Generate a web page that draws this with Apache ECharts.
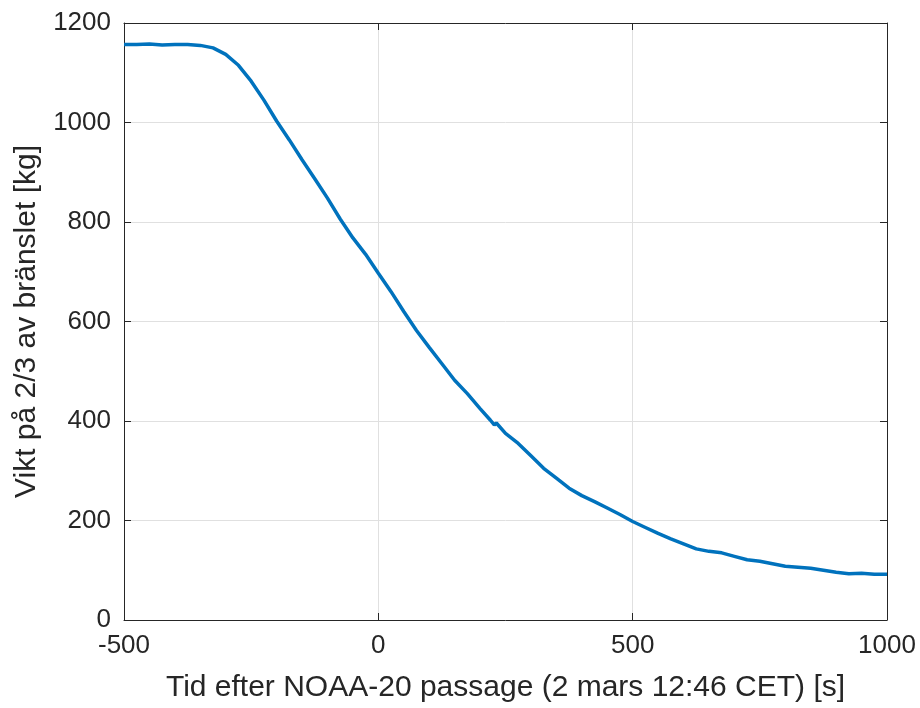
<!DOCTYPE html>
<html><head><meta charset="utf-8">
<script src="https://cdn.jsdelivr.net/npm/echarts@6/dist/echarts.min.js"></script>
<style>html,body{margin:0;padding:0;background:#fff}#c{width:920px;height:708px}</style>
</head><body><div id="c"></div>
<script>
const timeS = [-500,-475,-450,-425,-400,-375,-350,-325,-300,-275,-250,-225,-200,-175,-150,-125,-100,-75,-50,-25,0,25,50,75,100,125,150,175,200,220,228,232,250,275,300,325,350,375,400,425,450,475,500,525,550,575,600,625,650,675,700,725,750,775,800,825,850,875,900,925,950,975,1000];
const weightKg = [1157,1157,1158,1156,1157,1157,1155,1150,1137,1115,1083,1045,1003,965,925,887,848,806,768,735,697,660,620,582,548,515,482,455,425,402,392,396,375,355,330,305,285,265,250,238,225,212,198,186,174,163,153,143,138,135,128,121,118,113,108,106,104,100,96,93,94,92,92];
const xTicks = [-500,0,500,1000];
const yTicks = [0,200,400,600,800,1000,1200];
const xTitle = 'Tid efter NOAA-20 passage (2 mars 12:46 CET) [s]';
const yTitle = 'Vikt på 2/3 av bränslet [kg]';

const font = 'Liberation Sans, Arial, sans-serif';
const chart = echarts.init(document.getElementById('c'));
const axisLine = {show:true, onZero:false, lineStyle:{color:'#262626', width:1}};
const tickIn = {show:true, inside:true, length:7, lineStyle:{color:'#262626'}};
const split = {show:true, lineStyle:{color:'#e0e0e0', width:1}};
const fmt = v => String(v);
chart.setOption({
  animation:false,
  grid:{left:124, right:33, top:23, bottom:88, containLabel:false},
  xAxis:[
    {type:'value', min:xTicks[0], max:xTicks[xTicks.length-1], interval:500, position:'bottom',
     axisLine:axisLine, axisTick:tickIn, splitLine:split,
     axisLabel:{color:'#262626', fontSize:26, fontFamily:font, margin:13, formatter:fmt},
     name:xTitle, nameLocation:'middle', nameGap:53,
     nameTextStyle:{color:'#262626', fontSize:30, fontFamily:font}},
    {type:'value', min:xTicks[0], max:xTicks[xTicks.length-1], interval:500, position:'top',
     axisLine:axisLine, axisTick:tickIn, splitLine:{show:false}, axisLabel:{show:false}}
  ],
  yAxis:[
    {type:'value', min:yTicks[0], max:yTicks[yTicks.length-1], interval:200, position:'left',
     axisLine:axisLine, axisTick:tickIn, splitLine:split,
     axisLabel:{color:'#262626', fontSize:26, fontFamily:font, margin:13, formatter:fmt},
     name:yTitle, nameLocation:'middle', nameGap:82, nameRotate:90,
     nameTextStyle:{color:'#262626', fontSize:30, fontFamily:font}},
    {type:'value', min:yTicks[0], max:yTicks[yTicks.length-1], interval:200, position:'right',
     axisLine:axisLine, axisTick:tickIn, splitLine:{show:false}, axisLabel:{show:false}}
  ],
  series:[{
    type:'line', xAxisIndex:0, yAxisIndex:0, showSymbol:false,
    data: timeS.map((t,i)=>[t, weightKg[i]]),
    lineStyle:{color:'#0072BD', width:3.5}, itemStyle:{color:'#0072BD'}
  }]
});
</script></body></html>
